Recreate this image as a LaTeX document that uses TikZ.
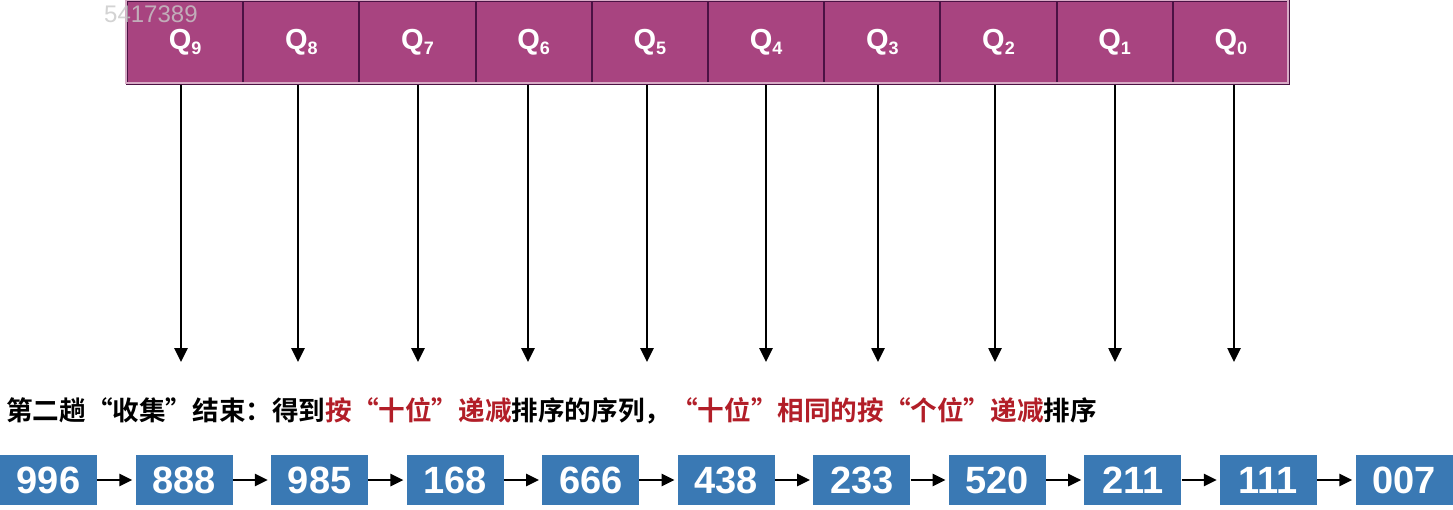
\documentclass[tikz,border=0pt]{standalone}
\usepackage{fontspec}
\setmainfont{Liberation Sans}
\newfontfamily\cjk{Noto Sans CJK SC}[BoldFont={Noto Sans CJK SC Bold}]
\usetikzlibrary{arrows.meta}
\definecolor{qmag}{RGB}{168,68,128}
\definecolor{qdiv}{RGB}{75,18,68}
\definecolor{nblue}{RGB}{58,121,180}
\definecolor{tred}{RGB}{178,30,40}
\definecolor{wm}{RGB}{200,200,200}
\tikzset{
  qcell/.style={draw=qdiv, line width=2pt, fill=qmag, minimum width=116.2pt, minimum height=83pt, inner sep=0pt, anchor=north west,
    text=white, font=\fontsize{29}{29}\selectfont\bfseries},
  numbox/.style={fill=nblue, minimum width=97pt, minimum height=50pt, inner sep=0pt, text=white, font=\fontsize{38}{38}\selectfont\bfseries},
  darr/.style={line width=2.6pt, -{Triangle[length=14pt,width=13pt]}},
  harr/.style={line width=2.6pt, -{Triangle[length=13pt,width=12pt]}},
}
\begin{document}
\begin{tikzpicture}[x=1pt,y=-1pt]
\useasboundingbox (0,0) rectangle (1453,509);
\fill[white] (0,0) rectangle (1453,509);
% queue cells
\foreach \i/\lab in {0/9,1/8,2/7,3/6,4/5,5/4,6/3,7/2,8/1,9/0} {
  \node[qcell] (q\lab) at ({126+116.2*\i},0) {\raisebox{-6pt}{Q\raisebox{-5pt}{\fontsize{18}{18}\selectfont\lab}}};
}
\draw[draw=qmag!45, line width=1.2pt] (126,0) rectangle (1288,83);
\node[text=wm, opacity=0.8, font=\fontsize{24}{24}\selectfont, anchor=west, inner sep=0pt] (wmk) at (104,14) {5417389};
% down arrows
\foreach \lab/\x in {9/181,8/298,7/418,6/528,5/647,4/766,3/878,2/995,1/1115,0/1234} {
  \coordinate (e\lab) at (\x,362);
  \draw[darr] (q\lab.south -| e\lab) -- (e\lab);
}
% caption
\node[anchor=west, inner sep=0pt, font=\cjk\bfseries\fontsize{26.6}{26.6}\selectfont] (cap) at (6,411)
  {第二趟“收集”结束：得到\textcolor{tred}{按“十位”递减}排序的序列，\textcolor{tred}{“十位”相同的按“个位”递减}排序};
% number boxes
\foreach \i/\v in {0/996,1/888,2/985,3/168,4/666,5/438,6/233,7/520,8/211,9/111,10/007} {
  \node[numbox] (n\i) at ({48.5+135.55*\i},480) {\v};
}
\foreach \i [evaluate=\i as \j using int(\i+1)] in {0,...,9} {
  \draw[harr] (n\i.east) -- ([xshift=-3pt]n\j.west);
}
\end{tikzpicture}
\end{document}
